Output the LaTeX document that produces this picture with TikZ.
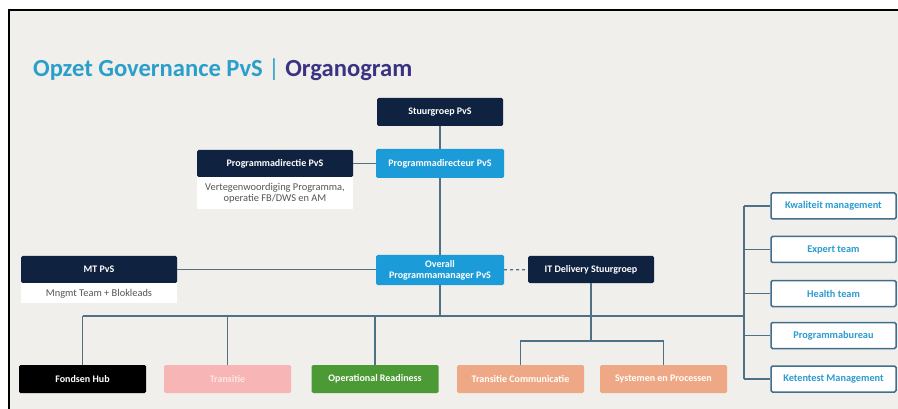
\documentclass[tikz,border=0pt]{standalone}
\usepackage{fontspec}
\setmainfont{Carlito}
\usetikzlibrary{positioning}

\definecolor{slidegrey}{HTML}{F0EFEB}
\definecolor{navy}{HTML}{0F2341}
\definecolor{pvsblue}{HTML}{1B9BD7}
\definecolor{titleteal}{HTML}{2B9FCB}
\definecolor{titlepurple}{HTML}{3A3384}
\definecolor{pinkbox}{HTML}{F7B5B5}
\definecolor{pinktext}{HTML}{FCE6E6}
\definecolor{greenbox}{HTML}{4C9A35}
\definecolor{salmon}{HTML}{EFA885}
\definecolor{teamline}{HTML}{3F6F8C}
\definecolor{teamtext}{HTML}{2B9BD0}
\definecolor{linkline}{HTML}{4F7185}
\definecolor{notetext}{HTML}{555555}

\begin{document}
\begin{tikzpicture}[x=1pt, y=-1pt,
    orgbox/.style={rectangle, rounded corners=1.5pt, inner sep=0pt, align=center,
      minimum height=27pt, font=\fontsize{10}{11}\selectfont\bfseries, text=white},
    navybox/.style={orgbox, fill=navy},
    bluebox/.style={orgbox, fill=pvsblue},
    notebox/.style={rectangle, fill=white, inner sep=0pt, align=center, text=notetext,
      font=\fontsize{10.4}{11.5}\selectfont},
    workbox/.style={orgbox, minimum width=127pt, minimum height=28pt},
    teambox/.style={orgbox, draw=teamline, line width=1.5pt, fill=white, text=teamtext,
      minimum width=125pt, minimum height=26pt, font=\fontsize{10.3}{11}\selectfont\bfseries},
    link/.style={draw=linkline, line width=1.2pt}]
  \useasboundingbox (0,0) rectangle (898,409);

  % Slide background
  \fill[white] (0,0) rectangle (898,409);
  \fill[slidegrey] (9,10) rectangle (898,409);
  \draw[line width=2pt] (9,409) -- (9,10) -- (898,10);

  % Title
  \node[anchor=base west, inner sep=0pt, font=\fontsize{24.6}{28}\selectfont\bfseries] (title) at (33,77)
    {\color{titleteal}Opzet Governance PvS \textmd{|} \color{titlepurple}Organogram};

  % Top of the programme
  \node[navybox, minimum width=126pt, minimum height=28pt] (stuur) at (440,112) {Stuurgroep PvS};
  \node[bluebox, minimum width=128pt, minimum height=29pt] (direc) at (440,163.5) {Programmadirecteur PvS};
  \node[navybox, minimum width=156pt] (directie) at (275,163.5) {Programmadirectie PvS};
  \node[notebox, minimum width=156pt, minimum height=32pt, below=0pt of directie] (directienote)
    {Vertegenwoordiging Programma,\\operatie FB/DWS en AM};

  % Programme management
  \node[bluebox, minimum width=128pt, minimum height=30pt] (overall) at (440,270) {Overall\\Programmamanager PvS};
  \node[navybox, minimum width=156pt] (mt) at (99,269.5) {MT PvS};
  \node[notebox, minimum width=156pt, minimum height=20pt, below=0pt of mt] (mtnote) {Mngmt Team + Blokleads};
  \node[navybox, minimum width=126pt] (itd) at (591,269.5) {IT Delivery Stuurgroep};

  % Work streams
  \node[workbox, fill=black] (fondsen) at (82.5,379) {Fondsen Hub};
  \node[workbox, fill=pinkbox, text=pinktext] (transitie) at (227.5,379) {Transitie};
  \node[workbox, fill=greenbox] (opready) at (375,379) {Operational Readiness};
  \node[workbox, fill=salmon] (transcomm) at (520.5,379) {Transitie Communicatie};
  \node[workbox, fill=salmon] (systemen) at (663.5,379) {Systemen en Processen};

  % Support teams
  \node[teambox] (kwal) at (833.5,206) {Kwaliteit management};
  \node[teambox] (expert) at (833.5,249.5) {Expert team};
  \node[teambox] (health) at (833.5,293.5) {Health team};
  \node[teambox] (progbur) at (833.5,335.5) {Programmabureau};
  \node[teambox] (keten) at (833.5,379) {Ketentest Management};

  % Connectors
  \coordinate (busL) at (83,316);
  \coordinate (busR) at (744,316);
  \coordinate (itsplit) at (591,341);
  \draw[link] (stuur) -- (direc);
  \draw[link] (direc) -- (overall);
  \draw[link] (directie) -- (direc);
  \draw[link] (mt.east) -- (mt.east -| overall.west);
  \draw[link, dashed] (overall) -- (itd);
  \draw[link] (overall.south) -- (overall.south |- busL);
  \draw[link] (busL) -- (busR);
  \foreach \n in {fondsen,transitie,opready}
    \draw[link] (\n.north) -- (\n.north |- busL);
  \draw[link] (itd) -- (itsplit);
  \draw[link] (transcomm.north) |- (itsplit) -| (systemen.north);
  \draw[link] (kwal.west -| busR) -- (keten.west -| busR);
  \foreach \n in {kwal,expert,health,progbur,keten}
    \draw[link] (\n.west) -- (\n.west -| busR);
\end{tikzpicture}
\end{document}
